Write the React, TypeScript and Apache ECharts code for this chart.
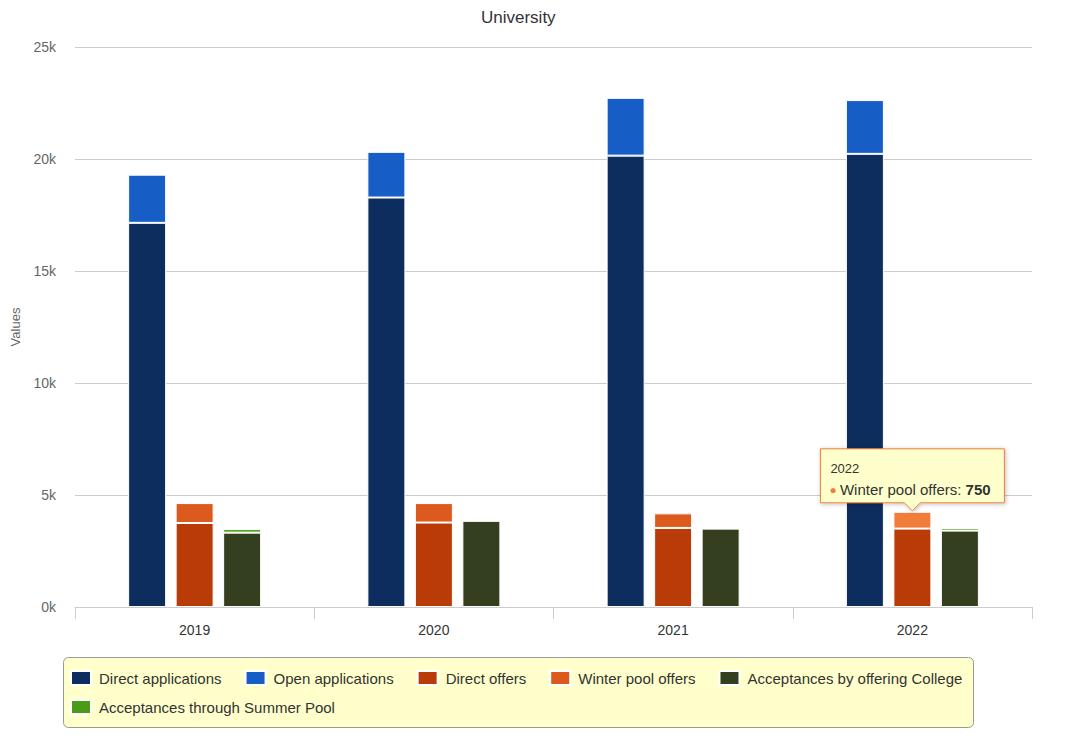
import React, { useEffect, useRef } from "react";
import * as echarts from "echarts";

const categories = ["2019", "2020", "2021", "2022"];
const directApplications = [17150, 18280, 20150, 20230];
const openApplications = [2150, 2040, 2580, 2400];
const directOffers = [3750, 3770, 3530, 3500];
const winterPoolOffers = [890, 870, 650, 750];
const acceptancesCollege = [3320, 3850, 3500, 3410];
const acceptancesSummer = [160, 0, 0, 120];

const yTicks = [0, 5000, 10000, 15000, 20000, 25000];

const seriesNames = [
  "Direct applications",
  "Open applications",
  "Direct offers",
  "Winter pool offers",
  "Acceptances by offering College",
  "Acceptances through Summer Pool",
];
const seriesColors = ["#0c2d5d", "#165dc5", "#b93b07", "#dc5a1e", "#333f1f", "#4b9b17"];
const hoverColor = "#f07d3b";
const hovered = { series: 3, index: 3 };

const FONT = "'Liberation Sans', Arial, sans-serif";

export default function App() {
  const ref = useRef<HTMLDivElement>(null);
  useEffect(() => {
    if (!ref.current) return;
    const chart = echarts.init(ref.current, null, { renderer: "svg" });
    const dataSets = [
      directApplications,
      openApplications,
      directOffers,
      winterPoolOffers,
      acceptancesCollege,
      acceptancesSummer,
    ];
    const stacks = ["apps", "apps", "offers", "offers", "acc", "acc"];
    const series = dataSets.map((arr, si) => ({
      name: seriesNames[si],
      type: "bar",
      stack: stacks[si],
      barWidth: 38,
      barGap: "25%",
      itemStyle: { color: seriesColors[si], borderColor: "#ffffff", borderWidth: 1 },
      data: arr.map((v, i) =>
        si === hovered.series && i === hovered.index
          ? { value: v, itemStyle: { color: hoverColor } }
          : v
      ),
    }));
    chart.setOption({
      animation: false,
      textStyle: { fontFamily: FONT },
      title: {
        text: "University",
        left: 476,
        top: 4,
        textStyle: { fontSize: 17, fontWeight: "normal", color: "#333333", fontFamily: FONT },
      },
      grid: {
        left: 75,
        right: 36,
        top: 47,
        bottom: 131,
        containLabel: false,
        outerBoundsMode: "none",
      },
      xAxis: {
        type: "category",
        data: categories,
        axisLine: { lineStyle: { color: "#cccccc" } },
        axisTick: { show: true, length: 12, alignWithLabel: false, lineStyle: { color: "#cccccc" } },
        axisLabel: { color: "#333333", fontSize: 14, margin: 16, fontFamily: FONT },
      },
      yAxis: {
        type: "value",
        min: yTicks[0],
        max: yTicks[yTicks.length - 1],
        interval: yTicks[1] - yTicks[0],
        name: "Values",
        nameLocation: "middle",
        nameRotate: 90,
        nameGap: 53,
        nameTextStyle: { color: "#666666", fontSize: 13, fontFamily: FONT },
        axisLine: { show: false },
        axisTick: { show: false },
        splitLine: { lineStyle: { color: "#cccccc" } },
        axisLabel: {
          color: "#666666",
          fontSize: 14,
          margin: 19,
          fontFamily: FONT,
          formatter: (v: number) => v / 1000 + "k",
        },
      },
      legend: {
        left: 70,
        top: 667,
        width: 925,
        padding: 0,
        itemWidth: 20,
        itemHeight: 14,
        itemGap: 7,
        icon: "rect",
        data: seriesNames,
        textStyle: {
          fontSize: 15,
          color: "#333333",
          fontFamily: FONT,
          lineHeight: 22,
          padding: [0, 16, 0, 3],
        },
      },
      series,
    });

    const tipVal = directOffers[hovered.index] + winterPoolOffers[hovered.index];
    const p = chart.convertToPixel({ gridIndex: 0 }, [hovered.index, tipVal]) as number[];
    const tipX = p[0];
    const tipY = p[1] - 1;
    const w = 184;
    const h = 54;
    const l = tipX - w / 2;
    const r = tipX + w / 2;
    const b = tipY - 8;
    const t = b - h;
    chart.setOption({
      graphic: [
        {
          type: "rect",
          z: -10,
          shape: { x: 63.5, y: 657.5, width: 910, height: 70, r: 5 },
          style: { fill: "#ffffcc", stroke: "#999999", lineWidth: 1 },
          silent: true,
        },
        {
          type: "polygon",
          z: 100,
          shape: {
            points: [
              [l, t],
              [r, t],
              [r, b],
              [tipX + 8, b],
              [tipX, tipY],
              [tipX - 8, b],
              [l, b],
            ],
          },
          style: {
            fill: "#ffffcc",
            stroke: hoverColor,
            lineWidth: 1,
            shadowBlur: 4,
            shadowOffsetX: 1,
            shadowOffsetY: 1,
            shadowColor: "rgba(0,0,0,0.25)",
          },
        },
        {
          type: "text",
          z: 101,
          x: l + 10,
          y: t + 20,
          style: {
            text: categories[hovered.index],
            fill: "#333333",
            fontSize: 13,
            fontFamily: FONT,
            verticalAlign: "middle",
          },
        },
        {
          type: "text",
          z: 101,
          x: l + 9,
          y: t + 41,
          style: {
            text:
              "{dot|●} {n|" +
              seriesNames[hovered.series] +
              ": }{v|" +
              winterPoolOffers[hovered.index] +
              "}",
            verticalAlign: "middle",
            rich: {
              dot: { fill: hoverColor, fontSize: 12, fontFamily: FONT },
              n: { fill: "#333333", fontSize: 15, fontFamily: FONT },
              v: { fill: "#333333", fontSize: 15, fontWeight: "bold", fontFamily: FONT },
            },
          },
        },
      ],
    });
    return () => chart.dispose();
  }, []);
  return (
    <div
      ref={ref}
      style={{ position: "fixed", left: 0, top: 0, width: 1068, height: 738, background: "#ffffff" }}
    />
  );
}
